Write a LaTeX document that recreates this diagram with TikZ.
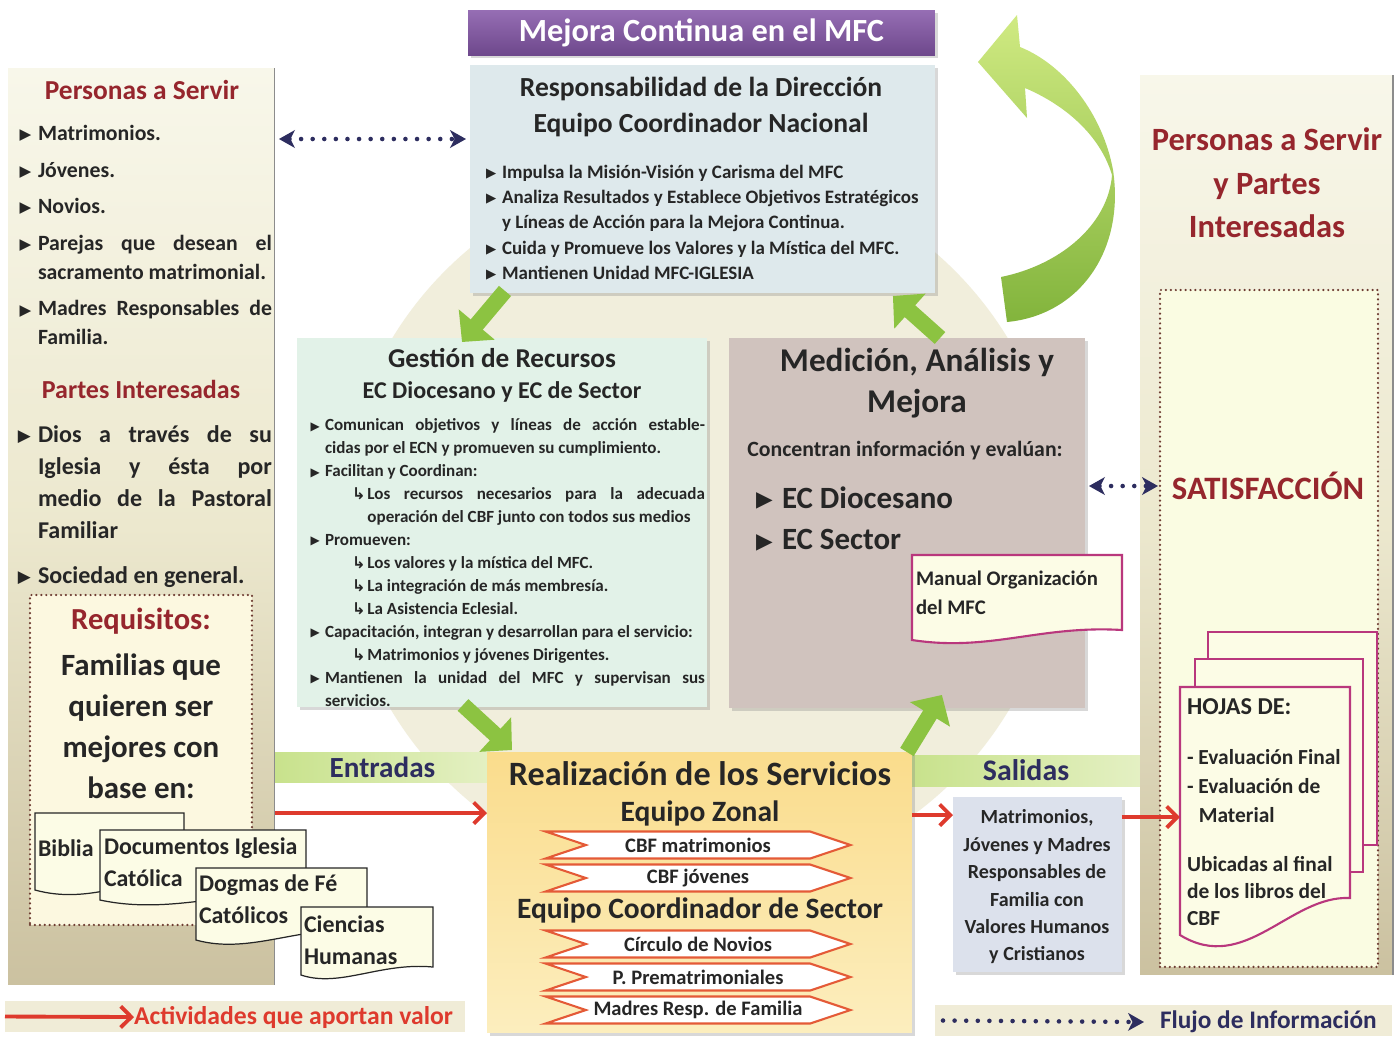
\documentclass[tikz,border=0pt]{standalone}
\usepackage{graphicx}
\usepackage{fontspec}
\setmainfont{Carlito}
\newfontfamily\symf{DejaVu Sans}
\usetikzlibrary{positioning,calc,arrows.meta,shapes.symbols,shadows}

\definecolor{ink}{RGB}{38,38,38}
\definecolor{darkred}{RGB}{150,38,45}
\definecolor{navy}{RGB}{45,45,95}
\definecolor{pantop}{RGB}{248,247,234}
\definecolor{panmid}{RGB}{236,232,206}
\definecolor{panbot}{RGB}{203,193,160}
\definecolor{dotc}{RGB}{110,60,50}
\definecolor{reqfill}{RGB}{252,248,224}
\definecolor{satfill}{RGB}{250,252,226}
\definecolor{purtop}{RGB}{150,110,180}
\definecolor{purbot}{RGB}{110,72,140}
\definecolor{respfill}{RGB}{222,233,236}
\definecolor{gestfill}{RGB}{226,242,232}
\definecolor{medfill}{RGB}{208,195,190}
\definecolor{realtop}{RGB}{250,220,140}
\definecolor{realbot}{RGB}{252,238,190}
\definecolor{salfill}{RGB}{220,225,236}
\definecolor{halo}{RGB}{241,238,220}
\definecolor{greenarr}{RGB}{140,195,65}
\definecolor{glight}{RGB}{208,234,130}
\definecolor{gdark}{RGB}{130,180,60}
\definecolor{bandl}{RGB}{200,226,140}
\definecolor{bandr}{RGB}{228,240,195}
\definecolor{redarr}{RGB}{222,58,45}
\definecolor{ribred}{RGB}{228,90,55}
\definecolor{docfill}{RGB}{252,252,230}
\definecolor{pagec}{RGB}{185,55,125}
\definecolor{legbg}{RGB}{240,236,215}

\newcommand\fsz[2]{\fontsize{#1}{#2}\selectfont}
\newcommand\bul{\leavevmode\llap{\raisebox{0.04em}{\scalebox{0.7}{\symf ▶}}\hspace{0.3em}}}
\newcommand\subarr{\leavevmode\llap{\scalebox{0.95}{\symf ↳}\hspace{0.1em}}}

\begin{document}
\begin{tikzpicture}[x=0.02cm,y=-0.02cm,>={Stealth[length=9pt,width=10pt,inset=2.5pt]},
  every node/.style={inner sep=0pt,outer sep=0pt,text=ink},
  box/.style={anchor=north west,rectangle,inner sep=0pt},
  panel/.style={box,top color=pantop,bottom color=panbot,middle color=panmid},
  dotbox/.style={box,draw=dotc,line width=1.4pt,dash pattern=on 0pt off 2.8pt,line cap=round},
  shadowed/.style={drop shadow={shadow xshift=1.6pt,shadow yshift=-1.6pt,opacity=0.3}},
  infoflow/.style={draw=navy,line width=2.6pt,dash pattern=on 0pt off 6.6pt,line cap=round},
  valflow/.style={draw=redarr,line width=2.2pt,-{Straight Barb[length=6pt,width=12pt]}},
  fatarrow/.style={draw=greenarr,line width=9pt,-{Triangle[length=13pt,width=26pt]}},
  ribbon/.style={signal,signal from=west,signal to=east,signal pointer angle=37,draw=ribred,
    line width=1.2pt,fill=white,minimum width=6.1cm,minimum height=0.54cm,font=\fsz{11.7}{13}\bfseries},
  doc/.style={fill=docfill,draw=black!85,line width=0.7pt},
  page/.style={fill=docfill,draw=pagec,line width=1.2pt},
  hd/.style={text=darkred},
  edge/.style={draw=black!45,line width=0.6pt}]
\fill[white] (0,0) rectangle (1398,1036);
\useasboundingbox (0,0) rectangle (1398,1036);
\fill[halo] (700,525) circle (360);

% side panels
\node[panel,minimum width=5.34cm,minimum height=18.34cm] (leftpanel) at (8,68) {};
\draw[edge] (leftpanel.north east) -- (leftpanel.south east);
\node[panel,minimum width=5.06cm,minimum height=18cm] (rightpanel) at (1140,75) {};
\draw[edge] (rightpanel.north east) -- (rightpanel.south east);

% personas a servir
\node[hd,font=\fsz{15.6}{18}\bfseries] (pstit) at (142,90) {Personas a Servir};
\node[anchor=north west,text width=4.68cm,align=justify,font=\fsz{12.4}{16.4}\bfseries] (pslist) at (38,125) {\setlength{\parskip}{4.5pt}%
\bul Matrimonios.\par
\bul Jóvenes.\par
\bul Novios.\par
\bul Parejas que desean el\linebreak sacramento matrimonial.\par
\bul Madres Responsables de\linebreak Familia.};
\node[hd,font=\fsz{14.8}{18}\bfseries] (pitit) at (141,389) {Partes Interesadas};
\node[anchor=north west,text width=4.68cm,align=justify,font=\fsz{13.7}{18.1}\bfseries] (pilist) at (38,426) {\setlength{\parskip}{7.4pt}%
\bul Dios a través de su\linebreak Iglesia y ésta por\linebreak medio de la Pastoral\linebreak Familiar\par
\bul Sociedad en general.};

% requisitos
\node[dotbox,fill=reqfill,minimum width=4.44cm,minimum height=6.6cm] (reqbox) at (30,595) {};
\node[hd,font=\fsz{17.4}{20}\bfseries] (reqtit) at (141,621) {Requisitos:};
\node[align=center,font=\fsz{17.6}{23.4}\bfseries] (reqtxt) at (141,726) {Familias que\\quieren ser\\mejores con\\base en:};
\filldraw[doc] (35,813) -- (184,813) -- (184,880) .. controls (130,878) and (90,905) .. (35,890) -- cycle;
\node[anchor=west,font=\fsz{13.6}{18}\bfseries] (biblia) at (38,848) {Biblia};
\filldraw[doc] (100,830) -- (306,830) -- (306,893) .. controls (230,890) and (170,915) .. (100,900) -- cycle;
\node[anchor=north west,align=left,font=\fsz{13.6}{18.1}\bfseries] (docig) at (104,838) {Documentos Iglesia\\Católica};
\filldraw[doc] (196,868) -- (367,868) -- (367,930) .. controls (300,925) and (250,955) .. (196,940) -- cycle;
\node[anchor=north west,align=left,font=\fsz{13.6}{18.1}\bfseries] (dogmas) at (199,875) {Dogmas de Fé\\Católicos};
\filldraw[doc] (301,907) -- (433,907) -- (433,967) .. controls (380,962) and (340,988) .. (301,975) -- cycle;
\node[anchor=north west,align=left,font=\fsz{13.6}{18.1}\bfseries] (ciencias) at (304,916) {Ciencias\\Humanas};

% centre boxes
\node[box,top color=purtop,bottom color=purbot,minimum width=9.34cm,minimum height=0.9cm,shadowed,
  font=\fsz{18.4}{20}\bfseries,text=white] (title) at (468,10) {Mejora Continua en el MFC};
\node[box,fill=respfill,minimum width=9.3cm,minimum height=4.56cm,shadowed] (resp) at (470,65) {};
\node[align=center,font=\fsz{15.7}{21}\bfseries] (resptit) at (701,107) {Responsabilidad de la Dirección\\Equipo Coordinador Nacional};
\node[anchor=north west,align=left,font=\fsz{10.8}{14.4}\bfseries] (resplist) at (502,165) {%
\bul Impulsa la Misión-Visión y Carisma del MFC\\
\bul Analiza Resultados y Establece Objetivos Estratégicos\\
y Líneas de Acción para la Mejora Continua.\\
\bul Cuida y Promueve los Valores y la Mística del MFC.\\
\bul Mantienen Unidad MFC-IGLESIA};

\node[box,fill=gestfill,minimum width=8.2cm,minimum height=7.38cm,shadowed] (gestion) at (297,338) {};
\node[font=\fsz{15.5}{20}\bfseries] (gesttit) at (502,358) {Gestión de Recursos};
\node[font=\fsz{13.7}{18}\bfseries] (gestsub) at (502,392) {EC Diocesano y EC de Sector};
\node[anchor=north west,text width=7.6cm,align=justify,font=\fsz{9.7}{13.05}\bfseries] (gestlist) at (325,419) {%
\bul Comunican objetivos y líneas de acción estable-\linebreak cidas por el ECN y promueven su cumplimiento.\par
\bul Facilitan y Coordinan:\par
\leftskip=0.85cm \subarr Los recursos necesarios para la adecuada\linebreak operación del CBF junto con todos sus medios\par
\leftskip=0pt \bul Promueven:\par
\leftskip=0.85cm \subarr Los valores y la mística del MFC.\par
\subarr La integración de más membresía.\par
\subarr La Asistencia Eclesial.\par
\leftskip=0pt \bul Capacitación, integran y desarrollan para el servicio:\par
\leftskip=0.85cm \subarr Matrimonios y jóvenes Dirigentes.\par
\leftskip=0pt \bul Mantienen la unidad del MFC y supervisan sus\linebreak servicios.};

\node[box,fill=medfill,minimum width=7.12cm,minimum height=7.4cm,shadowed] (medicion) at (729,338) {};
\node[align=center,font=\fsz{18.9}{23.3}\bfseries] (medtit) at (917,383) {Medición, Análisis y\\Mejora};
\node[font=\fsz{12.4}{15}\bfseries] (medconc) at (905,451) {Concentran información y evalúan:};
\node[anchor=west,font=\fsz{17.6}{20}\bfseries] (meddio) at (782,498) {\bul EC Diocesano};
\node[anchor=west,font=\fsz{17.6}{20}\bfseries] (medsec) at (782,540) {\bul EC Sector};
\filldraw[page] (912,555) -- (1122,555) -- (1122,630) .. controls (1040,625) and (990,652) .. (912,640) -- cycle;
\node[anchor=north west,align=left,font=\fsz{11.8}{16.4}\bfseries] (manual) at (916,571) {Manual Organización\\del MFC};

% right panel
\node[hd,align=center,font=\fsz{18.5}{24.7}\bfseries] (rtit) at (1267,183) {Personas a Servir\\y Partes\\Interesadas};
\node[dotbox,fill=satfill,minimum width=4.36cm,minimum height=13.54cm] (satbox) at (1160,290) {};
\node[hd,font=\fsz{18.6}{20}\bfseries] (sat) at (1268,486) {SATISFACCIÓN};
\filldraw[page] (1208,632) rectangle (1377,845);
\filldraw[page] (1195,659) rectangle (1363,872);
\filldraw[page] (1180,687) -- (1350,687) -- (1350,898) .. controls (1290,895) and (1245,975) .. (1180,935) -- cycle;
\coordinate (hojaf) at (1180,817);
\node[anchor=west,font=\fsz{13.8}{16}\bfseries] (hojas) at (1187,707) {HOJAS DE:};
\node[anchor=north west,align=left,font=\fsz{12.2}{16.7}\bfseries] (hojaev) at (1187,749) {- Evaluación Final\\- Evaluación de\\\hspace*{0.55em}Material};
\node[anchor=north west,align=left,font=\fsz{12.2}{15.6}\bfseries] (hojaub) at (1187,856) {Ubicadas al final\\de los libros del\\CBF};

% bands, realizacion, salidas
\node[box,left color=bandl,right color=bandr,minimum width=4.3cm,minimum height=0.6cm,
  font=\fsz{16.6}{18}\bfseries,text=navy] (entradas) at (275,752) {Entradas};
\node[box,left color=bandl,right color=bandr,minimum width=4.56cm,minimum height=0.62cm,
  font=\fsz{17}{18}\bfseries,text=navy] (salidas) at (912,755) {Salidas};
\node[box,top color=realtop,bottom color=realbot,minimum width=8.5cm,minimum height=5.62cm,shadowed] (realiz) at (487,752) {};
\node[font=\fsz{19.4}{22}\bfseries] (realtit) at (700,774) {Realización de los Servicios};
\node[font=\fsz{16.8}{20}\bfseries] (ezonal) at (700,813) {Equipo Zonal};
\node[ribbon] (rib1) at (698,845) {CBF matrimonios};
\node[ribbon] (rib2) at (698,878) {CBF jóvenes};
\node[font=\fsz{16.8}{20}\bfseries] (esector) at (700,910) {Equipo Coordinador de Sector};
\node[ribbon] (rib3) at (698,944) {Círculo de Novios};
\node[ribbon] (rib4) at (698,977) {P. Prematrimoniales};
\node[ribbon] (rib5) at (698,1010) {Madres Resp. de Familia};
\node[box,fill=salfill,minimum width=3.38cm,minimum height=3.5cm,shadowed] (salbox) at (953,797) {};
\node[align=center,font=\fsz{11.4}{15.6}\bfseries] (saltxt) at (1037,887) {Matrimonios,\\Jóvenes y Madres\\Responsables de\\Familia con\\Valores Humanos\\y Cristianos};

% green arrows
\shade[top color=glight,bottom color=gdark] (1001,277) -- (1007,322) .. controls (1080,315) and (1125,250) .. (1113,170)
  .. controls (1103,115) and (1065,65) .. (1020,47) -- (1017,15) -- (978,62) -- (1027,118) -- (1025,88)
  .. controls (1065,105) and (1100,135) .. (1112,175) .. controls (1108,225) and (1060,265) .. (1001,277) -- cycle;
\draw[fatarrow] ($(resp.south west)+(35,-2)$) -- ($(gestion.north west)+(165,4)$);
\draw[fatarrow] ($(medicion.north west)+(211,0)$) -- ($(resp.south east)+(-42,3)$);
\draw[fatarrow] ($(gestion.south west)+(166,-2)$) -- ($(realiz.north west)+(25,-2)$);
\draw[fatarrow] ($(realiz.north east)+(-5,0)$) -- ($(medicion.south east)+(-143,-13)$);

% flows
\draw[valflow] ($(leftpanel.north east)+(0,745)$) -- ($(realiz.north west)+(0,61)$);
\draw[valflow] ($(realiz.north east)+(0,63)$) -- ($(salbox.north west)+(0,18)$);
\draw[valflow] ($(salbox.north east)+(0,20)$) -- (hojaf);
\draw[infoflow,<->] ($(leftpanel.north east)+(4,71)$) -- ($(resp.north west)+(-4,74)$);
\draw[infoflow,<->] ($(medicion.east |- sat)+(4,0)$) -- ($(satbox.west |- sat)+(-2,0)$);

% legend
\node[box,fill=legbg,minimum width=9.2cm,minimum height=0.62cm] (legval) at (5,1001) {};
\node[anchor=west,font=\fsz{14.6}{16}\bfseries,text=redarr] (legvaltxt) at (134,1017) {Actividades que aportan valor};
\draw[valflow] (legval.west) -- (legvaltxt.west);
\node[box,fill=legbg,minimum width=9.14cm,minimum height=0.62cm] (leginfo) at (935,1005) {};
\node[anchor=west,font=\fsz{14.4}{16}\bfseries,text=navy] (leginfotxt) at (1160,1022) {Flujo de Información};
\draw[infoflow,->] ($(leginfo.west)+(8,0)$) -- ($(leginfotxt.west)+(-16,0)$);
\end{tikzpicture}
\end{document}
